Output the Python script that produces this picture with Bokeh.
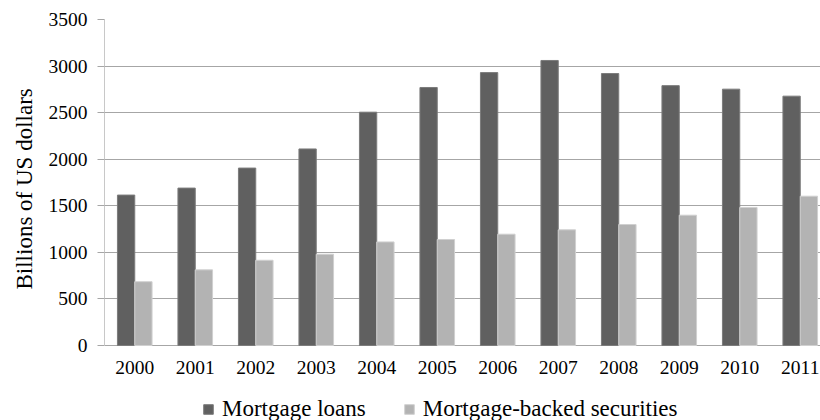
from bokeh.plotting import figure
from bokeh.models import ColumnDataSource, Range1d, FixedTicker, Legend, LegendItem, Title
from bokeh.transform import dodge
from bokeh.core.properties import value
from bokeh.embed import file_html
from bokeh.resources import INLINE

years = ["2000", "2001", "2002", "2003", "2004", "2005",
         "2006", "2007", "2008", "2009", "2010", "2011"]
mortgage_loans = [1615, 1690, 1905, 2110, 2505, 2770, 2930, 3060, 2920, 2790, 2752, 2677]
mbs = [685, 812, 915, 980, 1112, 1138, 1195, 1242, 1299, 1399, 1482, 1603]
y_ticks = [0, 500, 1000, 1500, 2000, 2500, 3000, 3500]
y_max = 3500
y_title = "Billions of US dollars"

src = ColumnDataSource(dict(x=list(range(len(years))), year=years,
                            loans=mortgage_loans, mbs=mbs, base=[0] * len(years)))

# layout (pixels)
W, H = 820, 420
LEFT, TOP = 104, 19
plot_h = 326            # pixels from 0 to y_max
cat_px = 60.5           # pixels per category
frame_w = W - LEFT
frame_h = H - TOP
y_start = y_max - frame_h * y_max / plot_h   # room under the baseline for labels / legend

p = figure(width=W, height=H, output_backend="svg", toolbar_location=None,
           x_range=Range1d(-0.5, -0.5 + frame_w / cat_px),
           y_range=Range1d(y_start, y_max),
           min_border_left=LEFT, min_border_right=0, min_border_top=TOP,
           min_border_bottom=0)
p.outline_line_color = None
p.background_fill_color = "white"
p.border_fill_color = "white"

bw = 0.286
r1 = p.vbar(x=dodge("x", -bw / 2, range=p.x_range), top="loans", width=bw, source=src,
            fill_color="#606060", line_color="#7c7c7c", line_width=1)
r2 = p.vbar(x=dodge("x", bw / 2, range=p.x_range), top="mbs", width=bw, source=src,
            fill_color="#b3b3b3", line_color="#d0d0d0", line_width=1)

font = "Liberation Serif"

# category labels under the baseline
p.text(x="x", y="base", text="year", source=src, text_font=value(font),
       text_font_size="19.5px", text_color="black", text_align="center",
       text_baseline="alphabetic", y_offset=22)

p.xaxis.visible = False
p.xgrid.grid_line_color = None

# y axis
p.yaxis.ticker = FixedTicker(ticks=y_ticks)
p.yaxis.bounds = (0, y_max)
p.yaxis.axis_line_color = "#c8c8c8"
p.yaxis.major_tick_line_color = "#a6a6a6"
p.yaxis.major_tick_out = 7
p.yaxis.major_tick_in = 0
p.yaxis.minor_tick_line_color = None
p.yaxis.major_label_text_font = font
p.yaxis.major_label_text_font_size = "19.5px"
p.yaxis.major_label_text_color = "black"
p.yaxis.major_label_standoff = 10
p.ygrid.ticker = FixedTicker(ticks=y_ticks)
p.ygrid.grid_line_color = "#a6a6a6"
p.ygrid.grid_line_width = 1

# y axis title, centred on the value span rather than the whole frame
p.add_layout(Title(text=y_title, align="left", offset=131, standoff=17,
                   text_font=font, text_font_size="23px", text_font_style="normal",
                   text_color="black"), "left")

legend = Legend(items=[LegendItem(label="Mortgage loans", renderers=[r1]),
                       LegendItem(label="Mortgage-backed securities", renderers=[r2])],
                orientation="horizontal", location=(98, -2),
                label_text_font=font, label_text_font_size="23px",
                label_text_color="black",
                glyph_width=12, glyph_height=12, label_standoff=8, spacing=37,
                padding=0, margin=0, border_line_color=None,
                background_fill_alpha=0)
p.add_layout(legend, "center")

open("out.html", "w").write(file_html(p, INLINE))
